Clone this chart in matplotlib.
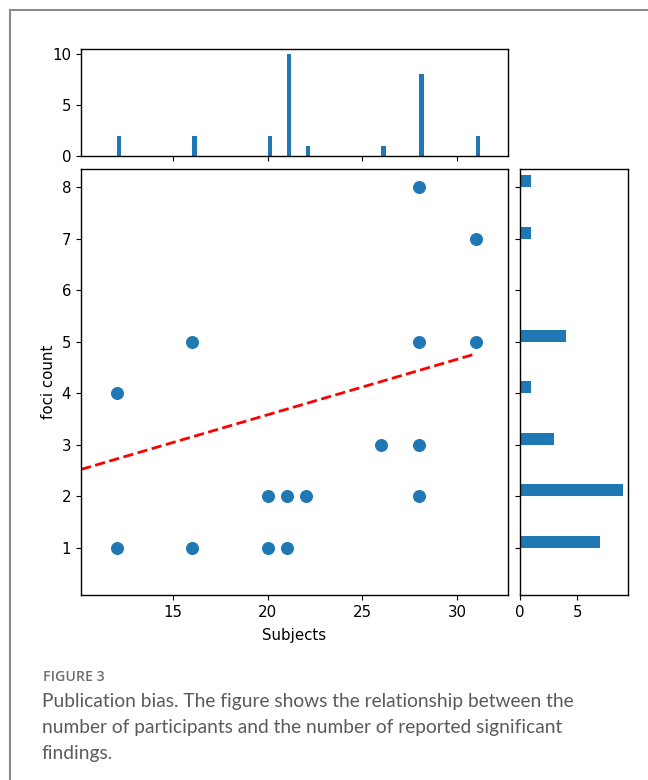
import numpy as np
import matplotlib
matplotlib.use('Agg')
import matplotlib.pyplot as plt
from matplotlib.lines import Line2D

# data
subjects = [12, 12, 16, 16, 20, 20, 21, 21, 22, 26, 28, 28, 28, 28, 31, 31]
foci = [1, 4, 1, 5, 1, 2, 1, 2, 2, 3, 2, 3, 5, 8, 5, 7]

# marginal histograms (counts per value)
subj_vals = [12, 16, 20, 21, 22, 26, 28, 31]
subj_counts = [2, 2, 2, 10, 1, 1, 8, 2]
foci_vals = [1, 2, 3, 4, 5, 7, 8]
foci_counts = [7, 9, 3, 1, 4, 1, 1]

# fitted trend line
fit_slope = 0.1075
fit_intercept = 1.43
fit_x = [10.12, 31]

caption_head = 'FIGURE 3'
caption_lines = ['Publication bias. The figure shows the relationship between the',
                 'number of participants and the number of reported significant',
                 'findings.']

plt.rcParams['font.size'] = 10.8
plt.rcParams['axes.linewidth'] = 1.0

fig = plt.figure(figsize=(6.48, 7.8), dpi=100)
W, H = 648.0, 780.0

def pos(l, t, r, b):
    return [l / W, 1 - b / H, (r - l) / W, (b - t) / H]

ax_top = fig.add_axes(pos(81, 49, 508, 156))
ax = fig.add_axes(pos(81, 169, 508, 595))
ax_right = fig.add_axes(pos(520, 169, 628, 595))

# main scatter
ax.scatter(subjects, foci, s=70, color='#1f77b4', zorder=3)
fx = np.array(fit_x)
ax.plot(fx, fit_intercept + fit_slope * fx, 'r--', lw=2.0, zorder=2)
ax.set_xlim(10.12, 32.7)
ax.set_ylim(0.08, 8.35)
ax.set_xticks([15, 20, 25, 30])
ax.set_yticks(range(1, 9))
ax.set_xlabel('Subjects', labelpad=6)
ax.set_ylabel('foci count')

# top histogram
ax_top.bar(subj_vals, subj_counts, width=0.2375, align='edge', color='#1f77b4')
ax_top.set_xlim(ax.get_xlim())
ax_top.set_ylim(0, 10.5)
ax_top.set_xticks([15, 20, 25, 30])
ax_top.set_xticklabels([])
ax_top.set_yticks([0, 5, 10])

# right histogram
ax_right.barh(foci_vals, foci_counts, height=0.233, align='edge', color='#1f77b4')
ax_right.set_ylim(ax.get_ylim())
ax_right.set_xlim(0, 9.45)
ax_right.set_yticks(range(1, 9))
ax_right.set_yticklabels([])
ax_right.set_xticks([0, 5])

# page frame
fig.add_artist(Line2D([10 / W, 10 / W], [0, 1 - 10 / H], color='#8c8c8c', lw=1.5))
fig.add_artist(Line2D([10 / W, 1], [1 - 10 / H, 1 - 10 / H], color='#8c8c8c', lw=1.5))

# caption
fig.text(43 / W, 1 - 677 / H, caption_head, fontsize=10.2, color='#6e6e6e',
         family='Open Sans', weight='semibold', va='center')
for i, line in enumerate(caption_lines):
    fig.text(42 / W, 1 - (701 + 26.5 * i) / H, line, fontsize=13.8, color='#5a5a5a',
             family='Lato', va='center')

fig.savefig('out.png', dpi=100)
